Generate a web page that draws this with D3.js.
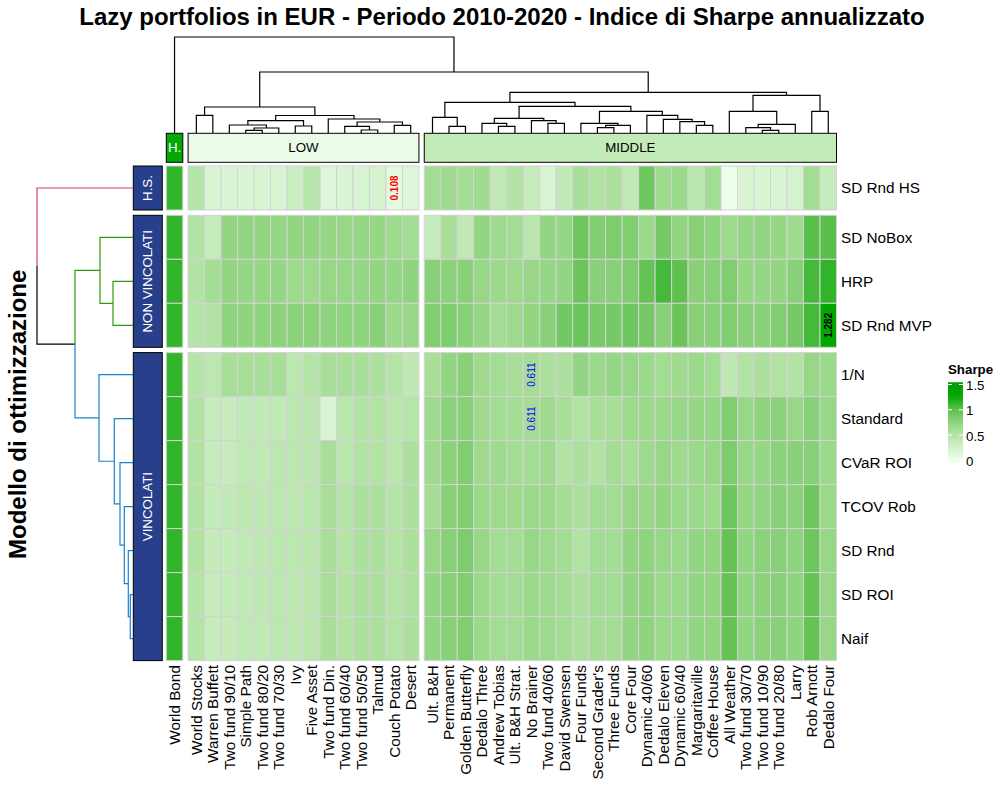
<!DOCTYPE html>
<html>
<head>
<meta charset="utf-8">
<script src="https://cdn.jsdelivr.net/npm/d3@7"></script>
<style>
  body { margin: 0; background: #fff; }
  text { font-family: "Liberation Sans", Arial, sans-serif; }
</style>
</head>
<body>
<div id="chart"></div>
<script>
// 1. DATA
// column splits (order as drawn, i.e. dendrogram leaf order)
const colsHigh = ["World Bond"];
const colsLow = ["World Stocks", "Warren Buffett", "Two fund 90/10", "Simple Path", "Two fund 80/20",
    "Two fund 70/30", "Ivy", "Five Asset", "Two fund Din.", "Two fund 60/40", "Two fund 50/50",
    "Talmud", "Couch Potato", "Desert"];
const colsMiddle = ["Ult. B&H", "Permanent", "Golden Butterfly", "Dedalo Three", "Andrew Tobias",
    "Ult. B&H Strat.", "No Brainer", "Two fund 40/60", "David Swensen", "Four Funds", "Second Grader's",
    "Three Funds", "Core Four", "Dynamic 40/60", "Dedalo Eleven", "Dynamic 60/40", "Margaritaville",
    "Coffee House", "All Weather", "Two fund 30/70", "Two fund 10/90", "Two fund 20/80", "Larry",
    "Rob Arnott", "Dedalo Four"];
const colSplitNames = ["H.", "LOW", "MIDDLE"];

// row splits
const rowsHS = ["SD Rnd HS"];
const rowsNV = ["SD NoBox", "HRP", "SD Rnd MVP"];
const rowsV = ["1/N", "Standard", "CVaR ROI", "TCOV Rob", "SD Rnd", "SD ROI", "Naif"];
const rowSplitNames = ["H.S.", "NON VINCOLATI", "VINCOLATI"];

// Sharpe ratios per row: World Bond | LOW (14) | MIDDLE (25)
const sdRndHS = [1.13,
    0.50, 0.20, 0.18, 0.18, 0.20, 0.20, 0.32, 0.48, 0.15, 0.18, 0.20, 0.23, 0.108, 0.15,
    0.63, 0.65, 0.63, 0.65, 0.40, 0.52, 0.35, 0.20, 0.38, 0.60, 0.52, 0.56, 0.40, 0.92, 0.65, 0.67, 0.46, 0.63, 0.02, 0.20, 0.19, 0.20, 0.23, 0.63, 0.35];
const sdNoBox = [1.13,
    0.52, 0.35, 0.72, 0.72, 0.72, 0.71, 0.72, 0.72, 0.70, 0.69, 0.70, 0.70, 0.66, 0.63,
    0.35, 0.60, 0.40, 0.72, 0.65, 0.63, 0.46, 0.72, 0.70, 0.92, 0.82, 0.84, 0.82, 0.67, 0.88, 0.72, 0.77, 0.74, 0.66, 0.70, 0.72, 0.70, 0.65, 1.02, 1.02];
const hrp = [1.13,
    0.52, 0.62, 0.72, 0.70, 0.70, 0.70, 0.66, 0.66, 0.69, 0.69, 0.70, 0.72, 0.70, 0.74,
    0.77, 0.76, 0.77, 0.69, 0.67, 0.66, 0.69, 0.70, 0.72, 0.94, 0.77, 0.78, 0.84, 0.97, 1.08, 1.00, 0.78, 0.78, 0.82, 0.70, 0.70, 0.72, 0.77, 1.08, 1.14];
const sdRndMVP = [1.13,
    0.50, 0.52, 0.74, 0.74, 0.74, 0.75, 0.76, 0.76, 0.74, 0.74, 0.74, 0.77, 0.67, 0.69,
    0.82, 0.84, 0.77, 0.70, 0.63, 0.66, 0.72, 0.77, 0.90, 0.94, 0.87, 0.88, 0.92, 0.88, 0.78, 0.94, 0.77, 0.77, 0.82, 0.77, 0.78, 0.82, 0.88, 1.08, 1.282];
const oneN = [1.13,
    0.50, 0.43, 0.60, 0.60, 0.58, 0.60, 0.43, 0.50, 0.60, 0.58, 0.58, 0.56, 0.50, 0.41,
    0.60, 0.72, 0.77, 0.65, 0.63, 0.60, 0.611, 0.56, 0.56, 0.72, 0.67, 0.70, 0.69, 0.67, 0.63, 0.65, 0.67, 0.63, 0.41, 0.52, 0.56, 0.52, 0.52, 0.69, 0.67];
const standard = [1.13,
    0.52, 0.35, 0.35, 0.38, 0.38, 0.40, 0.43, 0.43, 0.20, 0.46, 0.52, 0.52, 0.46, 0.48,
    0.66, 0.76, 0.77, 0.65, 0.63, 0.63, 0.611, 0.65, 0.60, 0.52, 0.60, 0.60, 0.66, 0.67, 0.67, 0.69, 0.70, 0.70, 0.82, 0.69, 0.74, 0.76, 0.69, 0.77, 0.69];
const cvarROI = [1.13,
    0.52, 0.35, 0.35, 0.40, 0.40, 0.43, 0.43, 0.43, 0.58, 0.46, 0.52, 0.52, 0.46, 0.56,
    0.65, 0.76, 0.82, 0.65, 0.65, 0.63, 0.63, 0.65, 0.52, 0.56, 0.52, 0.63, 0.60, 0.66, 0.69, 0.65, 0.67, 0.69, 0.84, 0.69, 0.70, 0.76, 0.77, 0.77, 0.67];
const tcovRob = [1.13,
    0.52, 0.37, 0.38, 0.42, 0.41, 0.43, 0.41, 0.46, 0.58, 0.50, 0.56, 0.56, 0.50, 0.56,
    0.61, 0.77, 0.82, 0.67, 0.65, 0.65, 0.67, 0.67, 0.63, 0.56, 0.63, 0.63, 0.69, 0.69, 0.72, 0.67, 0.67, 0.65, 0.92, 0.70, 0.72, 0.77, 0.76, 0.92, 0.67];
const sdRnd = [1.13,
    0.52, 0.36, 0.37, 0.40, 0.41, 0.43, 0.43, 0.45, 0.58, 0.50, 0.56, 0.56, 0.50, 0.57,
    0.69, 0.77, 0.84, 0.69, 0.63, 0.63, 0.69, 0.66, 0.63, 0.52, 0.63, 0.63, 0.72, 0.74, 0.69, 0.67, 0.72, 0.72, 0.97, 0.72, 0.76, 0.78, 0.74, 0.92, 0.69];
const sdROI = [1.13,
    0.50, 0.35, 0.37, 0.40, 0.41, 0.43, 0.42, 0.44, 0.58, 0.52, 0.56, 0.56, 0.51, 0.55,
    0.72, 0.77, 0.82, 0.67, 0.63, 0.63, 0.67, 0.66, 0.63, 0.56, 0.63, 0.63, 0.72, 0.74, 0.67, 0.67, 0.72, 0.72, 0.97, 0.72, 0.76, 0.78, 0.74, 0.97, 0.69];
const naif = [1.13,
    0.50, 0.35, 0.36, 0.40, 0.40, 0.43, 0.41, 0.45, 0.58, 0.52, 0.56, 0.56, 0.51, 0.56,
    0.72, 0.78, 0.82, 0.67, 0.63, 0.63, 0.67, 0.66, 0.63, 0.56, 0.61, 0.61, 0.72, 0.74, 0.67, 0.67, 0.72, 0.72, 0.97, 0.72, 0.76, 0.78, 0.74, 0.97, 0.69];
const rowValues = [sdRndHS, sdNoBox, hrp, sdRndMVP, oneN, standard, cvarROI, tcovRob, sdRnd, sdROI, naif];

// highlighted cells: [row, column, text colour]
const labelled = [
    ["SD Rnd HS", "Couch Potato", "#ff0000"],
    ["1/N", "No Brainer", "#0000ff"],
    ["Standard", "No Brainer", "#0000ff"],
    ["SD Rnd MVP", "Dedalo Four", "#000000"]
];

// dendrograms: [height, left, right]
const colTree = [9.6, "World Bond", [6.1,
    [2.6, [1.77, "World Stocks", "Warren Buffett"],
        [1.75,
            [1.23, [0.8, "Two fund 90/10", [0.5, [0.27, "Simple Path", "Two fund 80/20"], "Two fund 70/30"]],
                [0.7, "Ivy", "Five Asset"]],
            [1.4, "Two fund Din.", [1.1, [0.67, "Two fund 60/40", [0.3, "Two fund 50/50", "Talmud"]],
                [0.77, "Couch Potato", "Desert"]]]]],
    [4.07,
        [3.07, [1.57, "Ult. B&H", [0.67, "Permanent", "Golden Butterfly"]],
            [2.67,
                [1.47, [0.97, "Dedalo Three", [0.67, "Andrew Tobias", "Ult. B&H Strat."]],
                    [1.23, "No Brainer", [0.97, "Two fund 40/60", "David Swensen"]]],
                [2.17, [0.97, "Four Funds", [0.77, [0.53, "Second Grader's", "Three Funds"], "Core Four"]],
                    [1.77, "Dynamic 40/60", [1.37, "Dedalo Eleven", [1.13, "Dynamic 60/40",
                        [0.77, "Margaritaville", "Coffee House"]]]]]]],
        [3.77, [2.17, "All Weather", [0.87, [0.53, "Two fund 30/70", [0.27, "Two fund 10/90", "Two fund 20/80"]], "Larry"]],
            [2.17, "Rob Arnott", "Dedalo Four"]]]]];

const rowTree = [9.6, "SD Rnd HS", [5.8,
    [3.3, "SD NoBox", [2.0, "HRP", "SD Rnd MVP"]],
    [3.4, "1/N", [1.87, "Standard", [1.3, "CVaR ROI", [0.87, "TCOV Rob",
        [0.47, "SD Rnd", [0.27, "SD ROI", "Naif"]]]]]]]];

// 2. SETUP
const width = 1000;
const height = 796;
const svg = d3.select("#chart").append("svg")
    .attr("width", width).attr("height", height);

const heatLeft = 166.3, heatTop = 166;
const cellW = 16.49, cellH = 44, gap = 5.3;

const color = d3.scaleLinear()
    .domain([0, 0.6, 1.0, 1.28, 1.5])
    .range(["#f0fff0", "#a8de98", "#60c050", "#00a800", "#00a000"])
    .clamp(true);

// band scales, one per slice
const colSplits = [colsHigh, colsLow, colsMiddle];
const rowSplits = [rowsHS, rowsNV, rowsV];
let cx = heatLeft;
const colBands = colSplits.map(cols => {
    const s = d3.scaleBand().domain(cols).range([cx, cx + cols.length * cellW]);
    cx += cols.length * cellW + gap;
    return s;
});
let cy = heatTop;
const rowBands = rowSplits.map(rows => {
    const s = d3.scaleBand().domain(rows).range([cy, cy + rows.length * cellH]);
    cy += rows.length * cellH + gap;
    return s;
});
const allCols = colSplits.flat();
const allRows = rowSplits.flat();
const colScale = name => colBands.find(s => s.domain().includes(name))(name);
const rowScale = name => rowBands.find(s => s.domain().includes(name))(name);
const heatRight = colBands[2].range()[1];
const heatBottom = rowBands[2].range()[1];

// 3. HEATMAP CELLS
const cells = [];
allRows.forEach((r, i) => allCols.forEach((c, j) => cells.push({ row: r, col: c, value: rowValues[i][j] })));

svg.append("g").selectAll("rect").data(cells).join("rect")
    .attr("x", d => colScale(d.col)).attr("y", d => rowScale(d.row))
    .attr("width", cellW).attr("height", cellH)
    .attr("fill", d => color(d.value))
    .attr("stroke", "#d3d3d3").attr("stroke-width", 1);

svg.append("g").selectAll("text").data(labelled).join("text")
    .attr("transform", d => `translate(${colScale(d[1]) + cellW / 2},${rowScale(d[0]) + cellH / 2}) rotate(-90)`)
    .attr("text-anchor", "middle").attr("dy", "0.35em")
    .style("font-size", "10px")
    .style("font-weight", d => d[2] === "#0000ff" ? "normal" : "bold")
    .attr("fill", d => d[2])
    .text(d => {
        const i = allRows.indexOf(d[0]), j = allCols.indexOf(d[1]);
        return d3.format(".3f")(rowValues[i][j]);
    });

// 4. SLICE TITLES
const colSplitFill = ["#05a805", "#ebfbe8", "#c2ebb7"];
const colTitle = svg.append("g").selectAll("g").data(colBands).join("g");
colTitle.append("rect")
    .attr("x", s => s.range()[0]).attr("y", 133.3)
    .attr("width", s => s.range()[1] - s.range()[0]).attr("height", 29)
    .attr("fill", (s, i) => colSplitFill[i]).attr("stroke", "#000").attr("stroke-width", 1);
colTitle.append("text")
    .attr("x", s => (s.range()[0] + s.range()[1]) / 2).attr("y", 147.8).attr("dy", "0.35em")
    .attr("text-anchor", "middle").style("font-size", "13.3px")
    .attr("fill", (s, i) => i === 0 ? "#fff" : "#000")
    .text((s, i) => colSplitNames[i]);

const rowTitle = svg.append("g").selectAll("g").data(rowBands).join("g");
rowTitle.append("rect")
    .attr("x", 133.3).attr("y", s => s.range()[0])
    .attr("width", 29).attr("height", s => s.range()[1] - s.range()[0])
    .attr("fill", "#283f8c").attr("stroke", "#000").attr("stroke-width", 1);
rowTitle.append("text")
    .attr("transform", s => `translate(147.8,${(s.range()[0] + s.range()[1]) / 2}) rotate(-90)`)
    .attr("text-anchor", "middle").attr("dy", "0.35em")
    .style("font-size", "13.3px").attr("fill", "#fff")
    .text((s, i) => rowSplitNames[i]);

// 5. NAMES
svg.append("g").selectAll("text").data(allCols).join("text")
    .attr("transform", d => `translate(${colScale(d) + cellW / 2},${heatBottom + 4.5}) rotate(-90)`)
    .attr("text-anchor", "end").attr("dy", "0.35em")
    .style("font-size", "15.3px").text(d => d);

svg.append("g").selectAll("text").data(allRows).join("text")
    .attr("x", heatRight + 4.5).attr("y", d => rowScale(d) + cellH / 2).attr("dy", "0.35em")
    .style("font-size", "15.3px").text(d => d);

// 6. DENDROGRAMS
function build(node, posOf) {
    if (typeof node === "string") return { h: 0, pos: posOf(node), leaves: [node] };
    const kids = [build(node[1], posOf), build(node[2], posOf)];
    return { h: node[0], kids, pos: (kids[0].pos + kids[1].pos) / 2, leaves: kids[0].leaves.concat(kids[1].leaves) };
}
function edges(n, out) {
    if (!n.kids) return out;
    n.kids.forEach(k => { out.push({ p: n, c: k }); edges(k, out); });
    return out;
}

const colRoot = build(colTree, d => colScale(d) + cellW / 2);
const colH = d3.scaleLinear().domain([0, 9.6]).range([133, 37]);
svg.append("g").attr("fill", "none").attr("stroke", "#000").attr("stroke-width", 1.2)
    .selectAll("path").data(edges(colRoot, [])).join("path")
    .attr("d", d => `M${d.p.pos},${colH(d.p.h)}H${d.c.pos}V${colH(d.c.h)}`);

const rowRoot = build(rowTree, d => rowScale(d) + cellH / 2);
const rowH = d3.scaleLinear().domain([0, 9.6]).range([133, 37]);
const groupColor = ["#d33f6a", "#2e9a10", "#1a82cc"];
const branchColor = n => {
    const g = new Set(n.leaves.map(l => rowSplits.findIndex(rs => rs.includes(l))));
    return g.size === 1 ? groupColor[[...g][0]] : "#000";
};
svg.append("g").attr("fill", "none").attr("stroke-width", 1.2)
    .selectAll("path").data(edges(rowRoot, [])).join("path")
    .attr("stroke", d => branchColor(d.c))
    .attr("d", d => `M${rowH(d.p.h)},${d.p.pos}V${d.c.pos}H${rowH(d.c.h)}`);

// 7. TITLES
svg.append("text").attr("x", 502).attr("y", 25).attr("text-anchor", "middle")
    .style("font-size", "24px").style("font-weight", "bold")
    .text("Lazy portfolios in EUR - Periodo 2010-2020 - Indice di Sharpe annualizzato");

svg.append("text").attr("transform", `translate(26,${(heatTop + heatBottom) / 2 + 1}) rotate(-90)`)
    .attr("text-anchor", "middle")
    .style("font-size", "24px").style("font-weight", "bold")
    .text("Modello di ottimizzazione");

// 8. LEGEND
const legendTicks = [0, 0.5, 1, 1.5];
const legY = d3.scaleLinear().domain([0, 1.5]).range([460.3, 384.5]);
const legDomain = [-0.04, 1.545];
const grad = svg.append("defs").append("linearGradient")
    .attr("id", "sharpe-grad").attr("x1", 0).attr("y1", 1).attr("x2", 0).attr("y2", 0);
grad.selectAll("stop").data(d3.range(0, 1.0001, 0.05)).join("stop")
    .attr("offset", d => d)
    .attr("stop-color", d => color(legDomain[0] + d * (legDomain[1] - legDomain[0])));

const legend = svg.append("g");
legend.append("text").attr("x", 948).attr("y", 374)
    .style("font-size", "13.3px").style("font-weight", "bold").text("Sharpe");
legend.append("rect").attr("x", 948).attr("y", legY(legDomain[1]))
    .attr("width", 15).attr("height", legY(legDomain[0]) - legY(legDomain[1]))
    .attr("fill", "url(#sharpe-grad)");
const tick = legend.selectAll(".tick").data(legendTicks).join("g").attr("class", "tick");
tick.append("line").attr("x1", 948).attr("x2", 952).attr("y1", d => legY(d)).attr("y2", d => legY(d))
    .attr("stroke", "#fff").attr("stroke-width", 1);
tick.append("line").attr("x1", 959).attr("x2", 963).attr("y1", d => legY(d)).attr("y2", d => legY(d))
    .attr("stroke", "#fff").attr("stroke-width", 1);
tick.append("text").attr("x", 966).attr("y", d => legY(d) + 1).attr("dy", "0.35em")
    .style("font-size", "13.3px").text(d => d);
</script>
</body>
</html>
